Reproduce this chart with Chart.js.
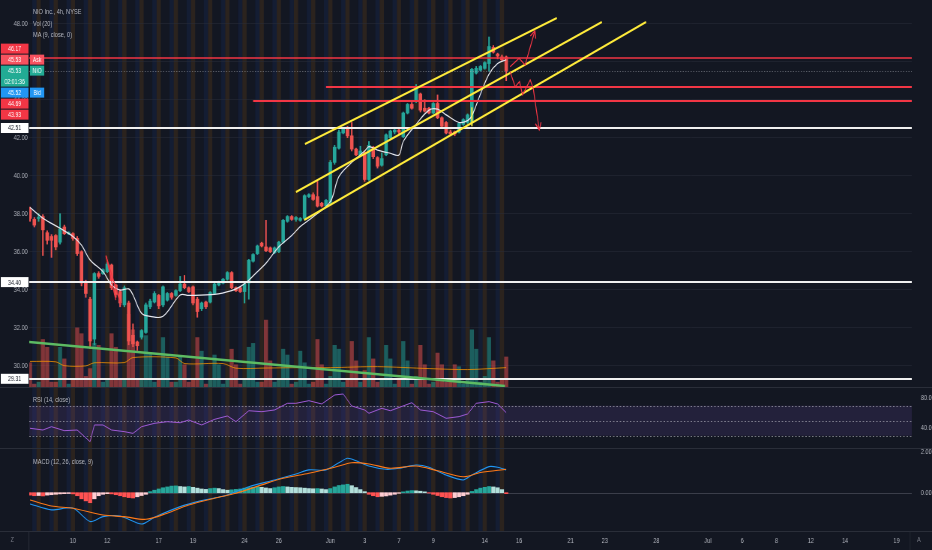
<!DOCTYPE html>
<html>
<head>
<meta charset="utf-8">
<title>NIO Inc., 4h, NYSE</title>
<script src="https://cdn.jsdelivr.net/npm/chart.js@4.4.1/dist/chart.umd.min.js"></script>
<style>
  html, body { margin:0; padding:0; width:932px; height:550px; overflow:hidden; background:#131722; }
  #wrap { position:absolute; left:0; top:0; width:1243px; height:550px; transform:scaleX(0.749799); transform-origin:0 0; font-family:'Liberation Sans', Arial, sans-serif; }
  .pane { position:absolute; left:0; width:1243px; }
  .txt { position:absolute; color:#b2b5be; font-size:7.5px; line-height:11.5px; white-space:nowrap; z-index:5; }
  .sep { position:absolute; background:#2a2e39; z-index:4; }
</style>
</head>
<body>
<div id="wrap">
  <div class="pane" style="top:0;height:388px"><canvas id="cMain" width="1243" height="388"></canvas></div>
  <div class="pane" style="top:388px;height:61px"><canvas id="cRsi" width="1243" height="61"></canvas></div>
  <div class="pane" style="top:441px;height:109px"><canvas id="cMacd" width="1243" height="109"></canvas></div>
  <div class="sep" style="left:0;top:387px;width:1243px;height:1px"></div>
  <div class="sep" style="left:0;top:448px;width:1243px;height:1px"></div>
  <div class="sep" style="left:0;top:531px;width:1243px;height:1px"></div>
  <div class="sep" style="left:38px;top:531px;width:1.4px;height:19px"></div>
  <div class="sep" style="left:1213px;top:531px;width:1.4px;height:19px"></div>
  <div class="txt" style="left:44px;top:6px">NIO Inc., 4h, NYSE</div>
  <div class="txt" style="left:44px;top:17.5px">Vol (20)</div>
  <div class="txt" style="left:44px;top:29px">MA (9, close, 0)</div>
  <div class="txt" style="left:44px;top:394px">RSI (14, close)</div>
  <div class="txt" style="left:44px;top:456px">MACD (12, 26, close, 9)</div>
  <div class="txt" style="left:14px;top:534px;color:#787b86">Z</div>
  <div class="txt" style="left:1223px;top:534px;color:#787b86">A</div>
</div>
<script>
// ---------------- DATA ----------------
const opens = [38.20,37.70,37.75,37.85,37.00,36.80,36.85,36.50,37.30,36.95,
 36.95,36.70,36.00,34.40,33.50,31.40,34.85,34.85,34.95,35.30,
 34.25,33.90,33.20,33.30,31.60,31.25,31.50,31.75,33.10,33.35,
 33.70,33.20,33.45,33.80,33.70,33.95,34.30,34.10,34.15,33.50,
 33.00,33.35,33.35,33.80,34.25,34.35,34.55,34.90,34.10,34.10,
 33.90,34.35,35.50,35.90,36.45,36.25,36.20,35.95,36.00,36.50,
 37.60,37.85,37.70,37.65,37.75,38.90,39.00,38.90,38.55,38.40,
 38.60,40.70,41.45,42.25,42.50,42.10,41.40,41.10,41.20,39.80,
 41.50,40.95,40.55,41.10,42.00,42.30,42.40,42.05,43.30,43.75,
 43.90,44.30,43.55,43.55,43.30,43.80,43.05,42.80,42.30,42.30,
 42.30,42.70,42.80,42.80,45.40,45.55,45.65,45.90,46.75,46.40,
 46.25,46.25];
const highs = [38.35,37.80,38.00,37.95,37.10,36.90,36.90,38.00,37.40,37.05,
 37.00,36.80,36.05,34.50,33.60,34.90,34.95,35.10,35.45,35.35,
 34.30,34.00,34.20,33.40,32.20,31.30,31.90,33.30,33.50,33.90,
 33.75,34.20,33.85,33.85,34.00,34.70,34.75,34.15,34.20,33.60,
 33.35,33.40,33.90,34.35,34.45,34.60,34.95,34.95,34.15,34.15,
 34.35,35.60,35.90,36.35,36.50,37.65,36.25,36.25,36.55,37.70,
 37.90,37.90,37.85,37.80,39.00,39.05,39.10,39.70,38.60,38.75,
 40.80,41.60,42.40,42.50,42.60,42.80,41.45,41.55,41.30,41.80,
 41.55,41.00,41.20,42.20,42.40,42.45,42.45,43.35,43.80,43.85,
 44.80,44.35,44.00,43.60,43.85,44.25,43.10,42.85,42.40,42.35,
 42.80,43.00,43.25,45.65,45.75,45.80,46.00,47.30,46.85,46.45,
 46.35,46.30];
const lows = [37.60,37.30,37.60,35.80,36.40,35.70,36.10,36.40,36.90,36.90,
 36.60,35.80,34.20,33.60,30.90,31.10,34.60,34.80,34.90,34.00,
 33.60,33.10,33.10,31.10,31.00,30.80,31.40,31.70,33.00,33.30,
 33.00,33.10,33.40,33.50,33.65,33.90,34.05,33.85,33.20,32.55,
 32.90,33.00,33.30,33.75,34.20,34.30,34.50,34.05,33.90,33.85,
 33.30,33.50,35.45,35.85,36.25,36.00,35.95,35.90,35.95,36.45,
 37.55,37.65,37.60,37.60,37.70,38.85,38.70,38.35,38.35,38.35,
 38.50,40.60,41.40,42.20,42.00,41.30,41.05,41.05,39.70,39.75,
 40.90,40.40,40.50,41.05,41.90,42.20,42.20,42.00,43.25,43.50,
 43.85,43.35,43.35,43.25,43.25,43.00,42.55,42.20,42.15,42.10,
 42.25,42.65,42.75,42.70,45.35,45.50,45.60,45.50,46.45,46.15,
 46.05,45.00];
const closes = [37.75,37.40,37.80,37.15,36.60,36.60,36.25,37.20,36.95,37.00,
 36.70,35.90,34.35,33.80,31.30,34.85,34.70,35.05,35.35,34.10,
 33.75,33.30,34.10,31.30,31.15,31.05,31.85,33.20,33.40,33.80,
 33.15,34.15,33.80,33.60,33.95,34.30,34.10,33.90,33.30,32.85,
 33.30,33.10,33.85,34.30,34.40,34.55,34.90,34.10,33.95,33.90,
 34.30,35.55,35.85,36.30,36.30,36.05,36.00,36.20,36.50,37.65,
 37.85,37.70,37.80,37.75,38.95,39.00,38.75,38.40,38.40,38.70,
 40.70,41.50,42.30,42.45,42.10,41.40,41.10,41.30,39.80,41.60,
 41.00,40.50,40.90,42.15,42.35,42.40,42.30,43.30,43.75,43.55,
 44.60,43.45,43.40,43.30,43.80,43.05,42.60,42.25,42.20,42.20,
 42.75,42.95,43.20,45.60,45.65,45.75,45.95,46.80,46.50,46.30,
 46.10,45.53];
const volumes = [13,2,3,25,21,3,3,21,15,2,
 4,31,28,6,10,23,22,3,4,28,
 21,4,5,38,30,5,5,27,18,3,
 4,26,16,3,3,16,12,3,4,26,
 19,2,4,17,12,2,4,20,12,2,
 5,21,23,3,3,35,14,3,5,20,
 17,2,3,19,13,2,3,25,12,2,
 6,22,20,3,5,24,14,3,9,26,
 15,3,4,22,15,2,4,24,14,2,
 6,22,12,2,3,18,12,3,3,12,
 11,2,5,30,20,3,6,26,14,3,
 4,16];
const volMaBars = [0,6,8,13,15,22,24,34,36,45,48,55,63,70,81,93,102,111];
const volMaVals = [13.7,13.5,11.5,11.4,13,13.1,15.7,15.5,12.6,12.6,10.2,10.3,10.5,10.5,11,10,9.5,10.5];
const maBars = [0,3,7,10,12,14,17,19,21,23,24,26,28,31,35,37,43,47,49,51,53,55,58,61,63,66,70,72,75,78,79,81,84,86,87,90,93,95,97,100,102,103,105,107,109,111];
const maVals = [38.32,37.76,37.23,36.8,36.35,35.56,34.95,34.25,33.98,34.04,33.72,32.76,32.6,32.6,33.72,33.7,33.75,33.95,34.16,34.5,34.95,35.39,36.26,36.85,37.32,37.84,38.63,39.95,40.7,41.3,41.53,41.35,41.18,41.09,41.8,42.7,43.45,43.5,43.2,42.8,42.9,43.15,44.3,45.35,45.9,46.1];
const rsiBars = [0,3,5,8,11,14,15,17,19,22,24,26,29,32,35,37,40,43,46,48,51,54,57,60,62,65,68,71,73,75,78,79,82,84,89,91,94,97,100,102,104,107,109,111];
const rsiVals = [39.9,37.6,42,36.7,37.6,22,44.3,44.3,37.6,35.4,33.1,42,46.5,48.7,47.3,50.9,44.3,51.8,56.3,48.7,63.3,62,64.3,73.2,73.2,76.7,72.3,84.3,85.6,69.6,64.3,59.9,66.5,63.3,74,64.3,62,53.2,55.4,59,73.2,75.4,72.3,60.7];
const macdBars = [0,5,10,14,17,21,26,29,35,40,46,51,57,62,65,69,72,74,76,79,83,86,90,93,97,101,103,107,109,111];
const macdVals = [-0.55,-0.84,-0.75,-1.41,-1.17,-1.14,-1.53,-1.2,-0.68,-0.39,-0.11,0.29,0.62,0.91,1.11,1.11,1.46,1.68,1.56,1.3,1.14,1.19,1.35,1.24,0.86,0.62,0.86,1.27,1.24,1.11];
const signalBars = [0,5,10,17,22,27,32,37,43,48,54,59,65,71,75,79,84,90,95,101,105,111];
const signalVals = [-0.36,-0.65,-0.76,-1.09,-1.17,-1.3,-1.0,-0.6,-0.27,-0.03,0.38,0.7,0.95,1.24,1.46,1.4,1.19,1.3,1.07,0.78,0.98,1.14];
const histVals = [-0.12,-0.15,-0.14,-0.16,-0.12,-0.10,-0.08,-0.06,-0.05,-0.04,
 -0.06,-0.15,-0.30,-0.40,-0.49,-0.30,-0.15,-0.08,-0.05,-0.06,
 -0.10,-0.15,-0.20,-0.24,-0.26,-0.20,-0.14,-0.08,0.05,0.12,
 0.18,0.24,0.28,0.32,0.33,0.30,0.28,0.30,0.26,0.22,
 0.18,0.16,0.20,0.22,0.20,0.15,0.12,0.14,0.16,0.18,
 0.22,0.25,0.27,0.30,0.26,0.23,0.20,0.24,0.28,0.30,
 0.28,0.26,0.25,0.24,0.22,0.20,0.19,0.20,0.18,0.15,
 0.20,0.28,0.35,0.38,0.41,0.34,0.25,0.15,0.05,-0.08,
 -0.15,-0.20,-0.18,-0.16,-0.12,-0.08,-0.03,0.04,0.08,0.10,
 0.09,0.07,0.04,-0.02,-0.08,-0.14,-0.20,-0.24,-0.26,-0.24,
 -0.20,-0.15,-0.08,0.06,0.15,0.22,0.26,0.30,0.28,0.24,
 0.15,-0.05];
// x-axis: bar index of each labelled day start, and its text
const tickBars = [10,18,30,38,50,58,70,78,86,94,106,114,126,134,146,158,166,174,182,190,202];
const tickLabels = ['10','12','17','19','24','26','Jun','3','7','9','14','16','21','23','28','Jul','6','8','12','14','19'];
const firstDayBar = 10;                       // first bar of May 10 session
const sessionOrder = ['pre','rth','rth','post'];
const priceTicks = [30,32,34,36,38,40,42,44,46,48];
const rsiTicks = [80,40];
const rsiBands = [70,50,30];
const macdTicks = [2,0];
// drawn levels (price, starting bar or null = whole width)
const levelPrices = [46.17,44.69,43.93,42.51,34.40,29.31];
const levelFromBar = [null,69,52,null,null,null];
const lastPrice = 45.53;
// price axis badges
const badgePrices = [46.17,45.53,45.53,45.52,44.69,43.93,42.51,34.40,29.31];
const badgeTags = ['','Ask','NIO','Bid','','','','',''];
const countdown = '02:01:36';
// drawings: [bar, price] points
const channelLines = [
  [[64.1,41.67],[122.8,48.30]],
  [[62.0,39.14],[133.3,48.09]],
  [[63.9,37.67],[143.6,48.09]]
];
const trendLine = [[-0.23,31.25],[110.7,28.93]];
const arrowUp = [[111.9,45.74],[114.0,46.18],[115.4,45.83],[117.7,47.63]];
const arrowDown = [[111.9,45.47],[113.1,44.68],[114.1,44.95],[114.8,44.25],[116.6,45.04],[117.3,44.60],[118.7,42.41]];
const markLines = [[[17.7,35.79],[21.2,33.19]],[[17.7,35.79],[20.0,33.45]]];
const highlight = [[103,42.6],[103,43.6]];

// ---------------- SETUP ----------------
Chart.defaults.font.family = "'Liberation Sans', Arial, sans-serif";
Chart.defaults.font.size = 7.5;
const X_MIN = -0.18, X_MAX = 205.54;
const GREEN = '#26a69a', RED = '#ef5350';
const TXT = '#b2b5be';
const idx = closes.map((_, i) => i);
const isUp = i => closes[i] >= opens[i];
const candleCol = idx.map(i => isUp(i) ? GREEN : RED);
const volCol = idx.map(i => isUp(i) ? 'rgba(38,166,154,0.5)' : 'rgba(239,83,80,0.5)');
const pts = (bars, vals) => bars.map((b, k) => ({x: b, y: vals[k]}));
const sessionFill = { pre: 'rgba(255,152,0,0.10)', post: 'rgba(41,98,255,0.08)', rth: null };

const stripes = {
  id: 'stripes',
  beforeDraw(chart) {
    const {ctx, chartArea: a, scales: {x}} = chart;
    ctx.save();
    ctx.beginPath(); ctx.rect(a.left, a.top, a.right - a.left, a.bottom - a.top); ctx.clip();
    for (let i = 0; i < closes.length; i++) {
      const pos = ((i - firstDayBar) % 4 + 4) % 4;
      const col = sessionFill[sessionOrder[pos]];
      if (!col) continue;
      const x0 = x.getPixelForValue(i - 0.5), x1 = x.getPixelForValue(i + 0.5);
      ctx.fillStyle = col;
      ctx.fillRect(x0, a.top, x1 - x0, a.bottom - a.top);
    }
    ctx.restore();
  }
};

function yAxisFit(width) {
  return s => { s.width = width; s.paddingTop = 0; s.paddingBottom = 0; };
}

function poly(ctx, chart, points, color, width, dash) {
  const {x, y} = chart.scales;
  ctx.beginPath();
  points.forEach((p, k) => {
    const px = x.getPixelForValue(p[0]), py = y.getPixelForValue(p[1]);
    if (k === 0) ctx.moveTo(px, py); else ctx.lineTo(px, py);
  });
  ctx.strokeStyle = color; ctx.lineWidth = width; ctx.setLineDash(dash || []);
  ctx.stroke();
  ctx.setLineDash([]);
}
function arrowHead(ctx, chart, points, color) {
  const {x, y} = chart.scales;
  const a = points[points.length - 2], b = points[points.length - 1];
  const ax = x.getPixelForValue(a[0]), ay = y.getPixelForValue(a[1]);
  const bx = x.getPixelForValue(b[0]), by = y.getPixelForValue(b[1]);
  const ang = Math.atan2(by - ay, bx - ax), L = 8;
  ctx.beginPath();
  ctx.moveTo(bx - L * Math.cos(ang - 0.5), by - L * Math.sin(ang - 0.5));
  ctx.lineTo(bx, by);
  ctx.lineTo(bx - L * Math.cos(ang + 0.5), by - L * Math.sin(ang + 0.5));
  ctx.strokeStyle = color; ctx.lineWidth = 1.3; ctx.stroke();
}

const drawings = {
  id: 'drawings',
  afterDatasetsDraw(chart) {
    const {ctx, chartArea: a, scales: {x, y}} = chart;
    ctx.save();
    ctx.beginPath(); ctx.rect(a.left, a.top, a.right - a.left, a.bottom - a.top); ctx.clip();
    // last price line
    const lp = Math.round(y.getPixelForValue(lastPrice)) + 0.5;
    ctx.beginPath(); ctx.moveTo(a.left, lp); ctx.lineTo(a.right, lp);
    ctx.strokeStyle = 'rgba(178,181,190,0.45)'; ctx.lineWidth = 1; ctx.setLineDash([1.5, 2]); ctx.stroke(); ctx.setLineDash([]);
    // horizontal levels
    levelPrices.forEach((p, k) => {
      const red = p > 43;
      const py = Math.round(y.getPixelForValue(p));
      const x0 = levelFromBar[k] === null ? a.left : x.getPixelForValue(levelFromBar[k]);
      ctx.beginPath(); ctx.moveTo(x0, py); ctx.lineTo(a.right, py);
      ctx.strokeStyle = red ? '#f23645' : '#f0f0f0';
      ctx.lineWidth = red ? (levelFromBar[k] === null ? 1.6 : 2) : 1.8;
      ctx.stroke();
    });
    poly(ctx, chart, trendLine, '#5dbb63', 2.6);
    channelLines.forEach(l => poly(ctx, chart, l, '#ffeb3b', 2.2));
    poly(ctx, chart, highlight, '#ffeb3b', 1.8);
    markLines.forEach(l => poly(ctx, chart, l, '#f23645', 1.3));
    poly(ctx, chart, arrowUp, '#f23645', 1.2);
    arrowHead(ctx, chart, arrowUp, '#f23645');
    poly(ctx, chart, arrowDown, '#f23645', 1.2);
    arrowHead(ctx, chart, arrowDown, '#f23645');
    ctx.restore();
  },
  afterDraw(chart) {
    const {ctx, scales: {y}} = chart;
    const n = badgePrices.length, rowH = 11;
    const anchor = badgeTags.indexOf('NIO');
    const trueY = badgePrices.map(p => y.getPixelForValue(p));
    const pos = trueY.slice();
    for (let k = anchor - 1; k >= 0; k--) pos[k] = Math.min(trueY[k], pos[k + 1] - rowH);
    for (let k = anchor + 1; k < n; k++) pos[k] = Math.max(trueY[k], pos[k - 1] + (k - 1 === anchor ? 2 : 1) * rowH);
    ctx.save();
    ctx.font = "7px 'Liberation Sans', Arial, sans-serif";
    ctx.textAlign = 'center'; ctx.textBaseline = 'middle';
    for (let k = 0; k < n; k++) {
      const tag = badgeTags[k];
      let bg, fg = '#ffffff';
      if (tag === 'Ask') bg = '#f7525f';
      else if (tag === 'NIO') bg = '#22ab94';
      else if (tag === 'Bid') bg = '#2196f3';
      else if (badgePrices[k] > 43) bg = '#f23645';
      else { bg = '#ffffff'; fg = '#131722'; }
      const h = k === anchor ? 2 * rowH : rowH;
      const top = pos[k] - rowH / 2;
      ctx.fillStyle = bg;
      ctx.fillRect(1, top + 0.5, 37, h - 1);
      ctx.fillStyle = fg;
      ctx.fillText(badgePrices[k].toFixed(2), 19.5, pos[k] + 0.5);
      if (k === anchor) ctx.fillText(countdown, 19.5, pos[k] + rowH + 0.5);
      if (tag) {
        ctx.fillStyle = bg;
        ctx.fillRect(40, top + 0.5, 19, rowH - 1);
        ctx.fillStyle = fg;
        ctx.fillText(tag, 49.5, pos[k] + 0.5);
      }
    }
    ctx.restore();
  }
};

const baseOpts = {
  responsive: false, animation: false, events: [],
  plugins: { legend: { display: false }, tooltip: { enabled: false } }
};
const xHidden = { type: 'linear', min: X_MIN, max: X_MAX, offset: false, display: false };

// ---------------- MAIN PANE ----------------
new Chart(document.getElementById('cMain'), {
  type: 'bar',
  data: { datasets: [
    { label: 'Volume', yAxisID: 'yVol', data: idx.map(i => ({x: i, y: volumes[i]})),
      backgroundColor: volCol, barThickness: 4.8, grouped: false, order: 5 },
    { type: 'line', label: 'Vol MA', yAxisID: 'yVol', data: pts(volMaBars, volMaVals),
      borderColor: 'rgba(255,152,0,0.75)', borderWidth: 1, pointRadius: 0, tension: 0.3, order: 4 },
    { label: 'Wick', yAxisID: 'y', data: idx.map(i => ({x: i, y: [lows[i], highs[i]]})),
      backgroundColor: candleCol, barThickness: 1.35, grouped: false, order: 3 },
    { label: 'Body', yAxisID: 'y', data: idx.map(i => ({x: i, y: [opens[i], closes[i]]})),
      backgroundColor: candleCol, barThickness: 4, minBarLength: 1, grouped: false, order: 2 },
    { type: 'line', label: 'MA 9', yAxisID: 'y', data: pts(maBars, maVals),
      borderColor: '#e6e8ef', borderWidth: 1.2, pointRadius: 0, tension: 0.35, order: 1 }
  ]},
  options: Object.assign({}, baseOpts, {
    layout: { padding: { left: 0, right: 27, top: 0, bottom: 0 } },
    scales: {
      x: xHidden,
      y: { position: 'left', min: 28.826, max: 49.247,
           afterBuildTicks: s => { s.ticks = priceTicks.map(v => ({value: v})); },
           afterFit: yAxisFit(39),
           ticks: { color: TXT, padding: 2, callback: v => Number(v).toFixed(2) },
           grid: { color: 'rgba(42,46,57,0.5)', drawTicks: false }, border: { display: false } },
      yVol: { display: false, min: 0, max: 200 }
    }
  }),
  plugins: [stripes, drawings]
});

// ---------------- RSI PANE ----------------
const rsiDeco = {
  id: 'rsiDeco',
  beforeDatasetsDraw(chart) {
    const {ctx, chartArea: a, scales: {y}} = chart;
    ctx.save();
    const yt = y.getPixelForValue(rsiBands[0]), yb = y.getPixelForValue(rsiBands[2]);
    ctx.fillStyle = 'rgba(126,87,194,0.16)';
    ctx.fillRect(a.left, yt, a.right - a.left, yb - yt);
    ctx.strokeStyle = 'rgba(200,202,210,0.55)'; ctx.lineWidth = 1; ctx.setLineDash([2, 2.5]);
    rsiBands.forEach(v => {
      const py = Math.round(y.getPixelForValue(v)) + 0.5;
      ctx.beginPath(); ctx.moveTo(a.left, py); ctx.lineTo(a.right, py); ctx.stroke();
    });
    ctx.restore();
  }
};
new Chart(document.getElementById('cRsi'), {
  type: 'line',
  data: { datasets: [
    { label: 'RSI', data: pts(rsiBars, rsiVals), borderColor: '#a05bd6', borderWidth: 1, pointRadius: 0, tension: 0 }
  ]},
  options: Object.assign({}, baseOpts, {
    layout: { padding: { left: 39, right: 0, top: 0, bottom: 0 } },
    scales: {
      x: xHidden,
      y: { position: 'right', min: 12.27, max: 93.6,
           afterBuildTicks: s => { s.ticks = rsiTicks.map(v => ({value: v})); },
           afterFit: yAxisFit(27),
           ticks: { color: TXT, padding: 4, callback: v => Number(v).toFixed(2) },
           grid: { display: false }, border: { display: false } }
    }
  }),
  plugins: [stripes, rsiDeco]
});

// ---------------- MACD PANE ----------------
const histCol = histVals.map((v, i) => {
  const prev = i > 0 ? histVals[i - 1] : v;
  if (v >= 0) return v >= prev ? '#26a69a' : '#b2dfdb';
  return v <= prev ? '#ff5252' : '#ffcdd2';
});
const macdDeco = {
  id: 'macdDeco',
  beforeDatasetsDraw(chart) {
    const {ctx, chartArea: a, scales: {y}} = chart;
    const py = Math.round(y.getPixelForValue(0)) + 0.5;
    ctx.save();
    ctx.strokeStyle = 'rgba(120,123,134,0.4)'; ctx.lineWidth = 1;
    ctx.beginPath(); ctx.moveTo(a.left, py); ctx.lineTo(a.right, py); ctx.stroke();
    ctx.restore();
  }
};
new Chart(document.getElementById('cMacd'), {
  type: 'bar',
  data: { datasets: [
    { label: 'Histogram', data: idx.map(i => ({x: i, y: histVals[i]})), backgroundColor: histCol,
      barThickness: 4.8, grouped: false, order: 3 },
    { type: 'line', label: 'MACD', data: pts(macdBars, macdVals), borderColor: '#2196f3', borderWidth: 1.1, pointRadius: 0, tension: 0.25, order: 2 },
    { type: 'line', label: 'Signal', data: pts(signalBars, signalVals), borderColor: '#ff7b1a', borderWidth: 1.1, pointRadius: 0, tension: 0.3, order: 1 }
  ]},
  options: Object.assign({}, baseOpts, {
    layout: { padding: { left: 39, right: 0, top: 8, bottom: 0 } },
    scales: {
      x: { type: 'linear', position: 'bottom', min: X_MIN, max: X_MAX, offset: false,
           afterBuildTicks: s => { s.ticks = tickBars.map(v => ({value: v})); },
           afterFit: s => { s.height = 19; s.paddingLeft = 0; s.paddingRight = 0; },
           ticks: { color: TXT, padding: 5, autoSkip: false, maxRotation: 0, minRotation: 0,
                    callback: (v, k) => tickLabels[k] },
           grid: { display: false, drawTicks: false }, border: { display: false } },
      y: { position: 'right', min: -1.87, max: 2.13,
           afterBuildTicks: s => { s.ticks = macdTicks.map(v => ({value: v})); },
           afterFit: yAxisFit(27),
           ticks: { color: TXT, padding: 4, callback: v => Number(v).toFixed(2) },
           grid: { display: false }, border: { display: false } }
    }
  }),
  plugins: [stripes, macdDeco]
});
</script>
</body>
</html>
